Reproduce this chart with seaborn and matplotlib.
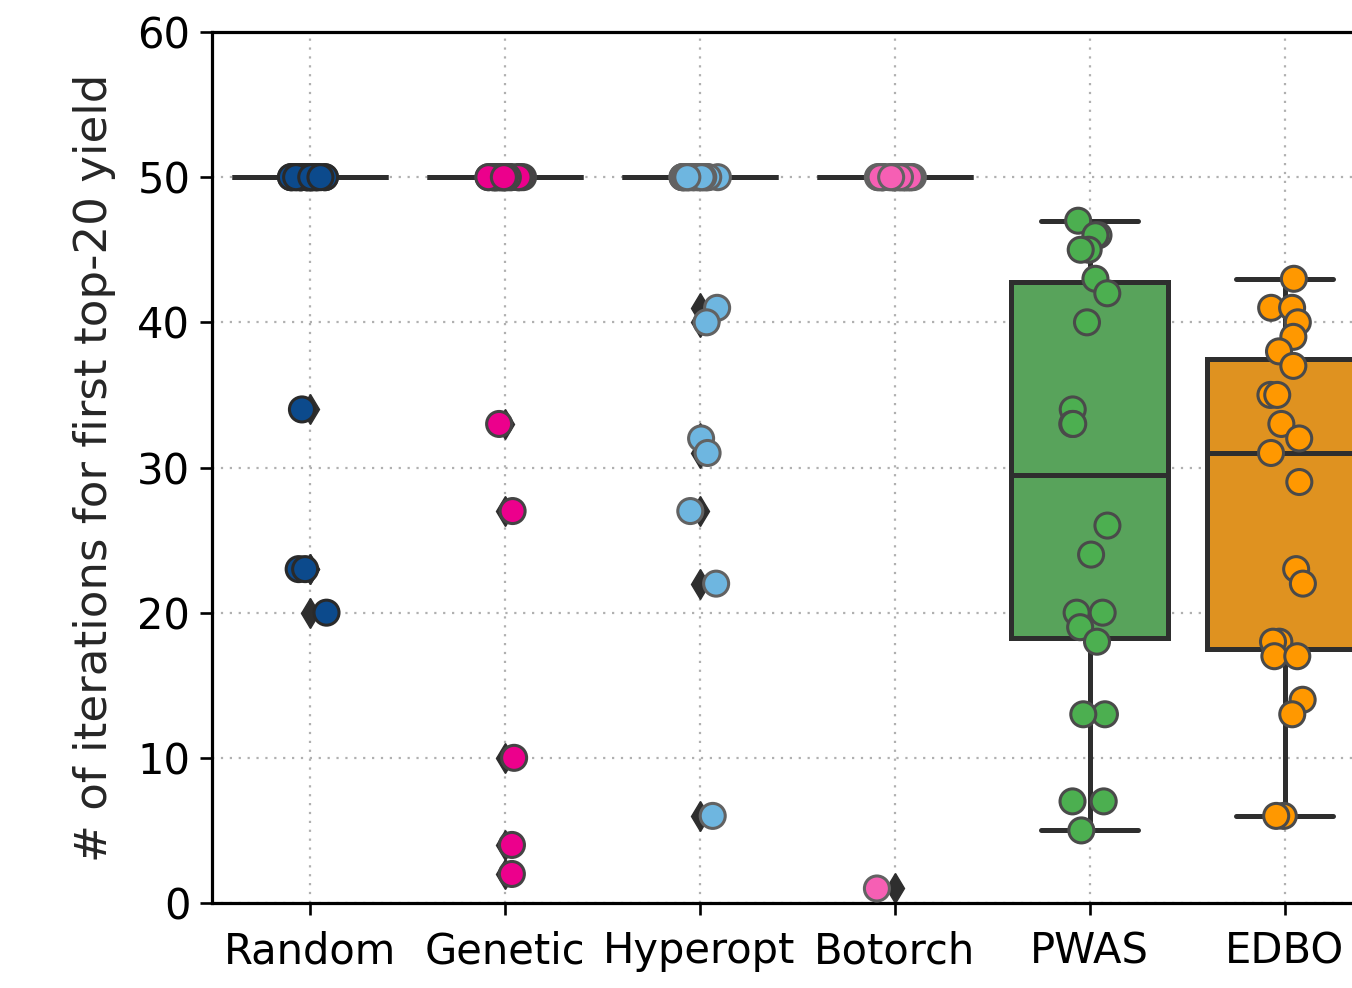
import numpy as np
import pandas as pd
import matplotlib
matplotlib.use("Agg")
import matplotlib.pyplot as plt
import seaborn as sns

# ---------------- data ----------------
methods = ["Random", "Genetic", "Hyperopt", "Botorch", "PWAS", "EDBO"]

random_vals = [50, 50, 50, 50, 50, 50, 50, 50, 50, 50, 50, 50, 50, 50, 50,
               50, 50, 50, 50, 50, 50, 50, 50, 50, 50, 50, 34, 23, 23, 20]
genetic_vals = [50, 50, 50, 50, 50, 50, 50, 50, 50, 50, 50, 50, 50, 50, 50,
                50, 50, 50, 50, 50, 50, 50, 50, 50, 50, 33, 27, 10, 4, 2]
hyperopt_vals = [50, 50, 50, 50, 50, 50, 50, 50, 50, 50, 50, 50, 50, 50, 50,
                 50, 50, 50, 50, 50, 50, 50, 50, 41, 40, 32, 31, 27, 22, 6]
botorch_vals = [50, 50, 50, 50, 50, 50, 50, 50, 50, 50, 50, 50, 50, 50, 50,
                50, 50, 50, 50, 50, 50, 50, 50, 50, 50, 50, 50, 50, 50, 1]
pwas_vals = [47, 46, 46, 45, 45, 43, 42, 40, 34, 33, 33,
             26, 24, 20, 20, 19, 18, 13, 13, 7, 7, 5]
edbo_vals = [43, 41, 41, 40, 39, 38, 37, 35, 35, 33, 32, 31,
             29, 23, 22, 18, 18, 17, 17, 14, 13, 6, 6]

point_colors = ["#0C4A8C", "#EC008C", "#6EB6E0", "#F65FB4", "#4CAF50", "#FF9800"]
edge_colors = ["#2a2a2a", "#444444", "#626262", "#626262", "#4a4a4a", "#4a4a4a"]

ylabel = "# of iterations for first top-20 yield"
yticks = [0, 10, 20, 30, 40, 50, 60]

series = [random_vals, genetic_vals, hyperopt_vals, botorch_vals, pwas_vals, edbo_vals]
df = pd.DataFrame({
    "method": [m for m, vals in zip(methods, series) for _ in vals],
    "value": [v for vals in series for v in vals],
})
df["method"] = pd.Categorical(df["method"], categories=methods, ordered=True)

# ---------------- figure ----------------
sns.set_style("ticks")
plt.rcParams["font.family"] = ["DejaVu Sans"]

W, H = 1352, 988
fig = plt.figure(figsize=(W / 100, H / 100), dpi=100)
ax = fig.add_axes([212 / W, 85 / H, 1170 / W, 871 / H])

line_col = "#2e2e2e"
sns.boxplot(
    data=df, x="method", y="value", hue="method",
    order=methods, hue_order=methods, palette=point_colors,
    width=0.8, linewidth=3.6, linecolor=line_col, fliersize=15,
    flierprops=dict(marker="d", markerfacecolor=line_col, markeredgecolor=line_col),
    capwidths=0.5, legend=False, ax=ax,
)

np.random.seed(3)
sns.stripplot(
    data=df, x="method", y="value", hue="method",
    order=methods, hue_order=methods, palette=point_colors,
    size=18, linewidth=2.2, edgecolor="#4a4a4a", jitter=True,
    legend=False, ax=ax, zorder=3,
)

# per-category edge shades
for coll in ax.collections:
    offs = coll.get_offsets()
    if len(offs) == 0:
        continue
    idx = int(round(float(np.mean(np.asarray(offs)[:, 0]))))
    if 0 <= idx < len(methods):
        coll.set_edgecolor(edge_colors[idx])

ax.set_xlim(-0.5, len(methods) - 0.5)
ax.set_ylim(0, 60)
ax.set_yticks(yticks)
ax.set_xlabel("")
ax.set_ylabel(ylabel, fontsize=32.5)
ax.yaxis.set_label_coords(-0.082, 0.5)

ax.grid(True, linestyle=(0, (1, 3)), linewidth=1.6, color="#b0b0b0")
ax.set_axisbelow(True)

for s in ["left", "bottom", "top", "right"]:
    ax.spines[s].set_visible(True)
    ax.spines[s].set_linewidth(2.3)
    ax.spines[s].set_color("black")

ax.tick_params(axis="both", labelsize=30, length=8.6, width=1.9, pad=7, colors="black")
ax.tick_params(axis="x", pad=11)

fig.savefig("out.png", dpi=100)
